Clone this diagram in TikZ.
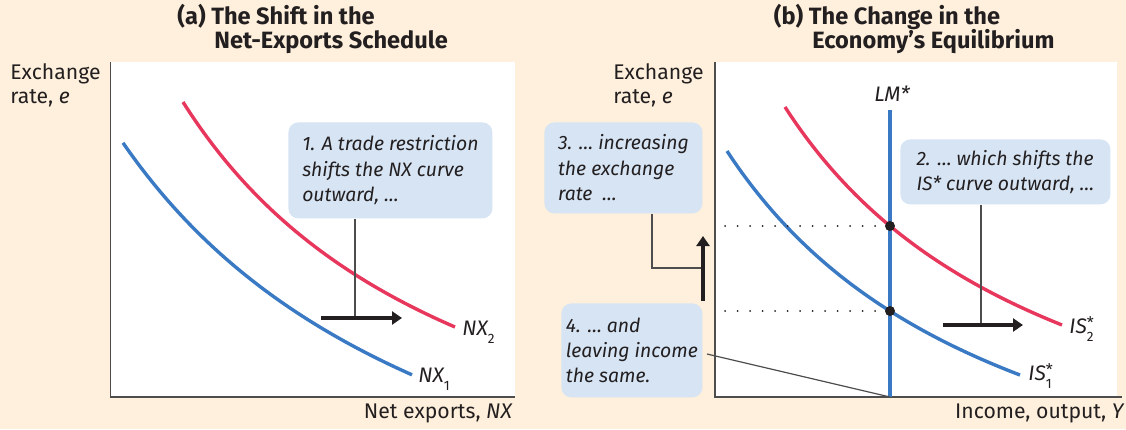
\documentclass[tikz,border=0pt]{standalone}
\usepackage{fontspec}
\setmainfont{Fira Sans}
\usetikzlibrary{arrows.meta}
\definecolor{bg}{HTML}{FEF0DC}
\definecolor{boxblue}{HTML}{D6E4F4}
\definecolor{cred}{HTML}{E8375C}
\definecolor{cblue}{HTML}{3A7AC4}
\definecolor{axisc}{HTML}{4D4D4D}
\definecolor{txt}{HTML}{231F20}
\newcommand{\boxfont}{\fontsize{9.7}{12.7}\selectfont\itshape}
\newcommand{\axfont}{\fontsize{10.6}{12}\selectfont}
\newcommand{\ttlfont}{\fontsize{11.8}{12}\selectfont\bfseries}
\newcommand{\crvfont}{\fontsize{10.5}{12}\selectfont\itshape}
\newcommand{\subfnt}{\fontsize{6.8}{8}\selectfont\upshape}
\newcommand{\starfnt}{\fontsize{8}{8}\selectfont\upshape}
\begin{document}
\begin{tikzpicture}[x=0.5pt,y=-0.5pt,
  axisline/.style={draw=axisc, line width=0.8pt},
  redcurve/.style={draw=cred, line width=1.7pt},
  bluecurve/.style={draw=cblue, line width=1.7pt},
  lmline/.style={draw=cblue, line width=2pt},
  infobox/.style={fill=boxblue, rounded corners=5pt, inner sep=0pt, align=left, font=\boxfont, text=txt, anchor=north west},
  leader/.style={draw=axisc, line width=0.6pt},
  bigarrow/.style={draw=txt, line width=2pt, -{Triangle[length=5pt,width=6.5pt]}},
  eqdot/.style={circle, fill=txt, inner sep=0pt, minimum size=5pt},
  dotline/.style={draw=txt, line width=1pt, line cap=round, dash pattern=on 0pt off 6.25pt},
  lbl/.style={font=\axfont, text=txt, inner sep=0pt, anchor=base west},
  ttl/.style={font=\ttlfont, text=txt, inner sep=0pt, anchor=base west},
  crv/.style={font=\crvfont, text=txt, inner sep=0pt, anchor=base west}
]
\fill[bg] (0,0) rectangle (1126,429);
\useasboundingbox (0,0) rectangle (1126,429);
% plot areas
\fill[white] (110,62) rectangle (515,397);
\fill[white] (715,62) rectangle (1117,397);

% ---------- Panel (a) ----------
\node[ttl] (ta1) at (177,24) {(a) The Shift in the};
\node[ttl] (ta2) at (214,48) {Net-Exports Schedule};
\node[lbl] (ya1) at (10,79) {Exchange};
\node[lbl] (ya2) at (10,103) {rate, \textit{e}};
\node[lbl, anchor=base east] (xa) at (513,418) {Net exports, \textit{NX}};
\draw[axisline] (110.5,62) -- (110.5,397) -- (515,397);

% NX1 and NX2 (hyperbolas, in units of 10 px)
\draw[bluecurve] plot[domain=123:412, samples=80] (\x, {397 - 10*(1867.4/(\x/10+23.6) - 26.6)});
\draw[redcurve] plot[domain=183:455, samples=80] (\x, {397 - 10*(1410.1/(\x/10+11.57) - 17.71)});
\node[crv] (nx1) at (418,382) {NX\raisebox{-4pt}{\subfnt 1}};
\node[crv] (nx2) at (462,335) {NX\raisebox{-4pt}{\subfnt 2}};

\node[infobox, minimum width=102pt, minimum height=48pt] (box1) at (288,122)
  {1. A trade restriction\\shifts the NX curve\\outward, …};
\coordinate (a1s) at (321,318);
\coordinate (a1m) at (355,318);
\coordinate (a1e) at (402,318);
\draw[leader] (box1.south -| a1m) -- (a1m);
\draw[bigarrow] (a1s) -- (a1e);

% ---------- Panel (b) ----------
\node[ttl] (tb1) at (773.5,24) {(b) The Change in the};
\node[ttl] (tb2) at (812,48) {Economy’s Equilibrium};
\node[lbl] (yb1) at (613,79) {Exchange};
\node[lbl] (yb2) at (613,103) {rate, \textit{e}};
\node[lbl, anchor=base east] (xb) at (1125,418) {Income, output, \textit{Y}};
\draw[axisline] (715,62) -- (715,397) -- (1122,397);

\coordinate (lmtop) at (890,110);
\coordinate (lmbot) at (890,397);
\node[crv, anchor=base] (lmlbl) at (892,101) {LM*};
\coordinate (d2s) at (725,226);
\coordinate (d1s) at (725,311);

\draw[bluecurve] plot[domain=727:1020, samples=80] (\x, {397 - 10*(1324.75/(\x/10-43.22) - 20.34)});
\draw[redcurve] plot[domain=785:1062, samples=80] (\x, {397 - 10*(1266.6/(\x/10-49.91) - 15.3)});
\draw[lmline] (lmtop) -- (lmbot);
\node[eqdot] (e2) at (890,226) {};
\node[eqdot] (e1) at (890,311) {};
\draw[dotline] (d2s) -- (e2.west);
\draw[dotline] (d1s) -- (e1.west);

\node[crv] (is1) at (1028,380) {IS\rlap{\raisebox{2.2pt}{\starfnt *}}\raisebox{-4.3pt}{\subfnt 1}};
\node[crv] (is2) at (1069,333) {IS\rlap{\raisebox{2.2pt}{\starfnt *}}\raisebox{-4.3pt}{\subfnt 2}};

\node[infobox, minimum width=105pt, minimum height=32.5pt] (box2) at (900,139)
  {2. … which shifts the\\IS* curve outward, …};
\coordinate (a2s) at (943,325);
\coordinate (a2m) at (981,325);
\coordinate (a2e) at (1023,325);
\draw[leader] (box2.south -| a2m) -- (a2m);
\draw[bigarrow] (a2s) -- (a2e);

\node[infobox, minimum width=79pt, minimum height=45.5pt] (box3) at (544,122)
  {3. … increasing\\the exchange\\rate \ …};
\coordinate (a3s) at (703,301);
\coordinate (a3m) at (703,268);
\coordinate (a3e) at (703,236);
\coordinate (l3) at (652,268);
\draw[leader] (box3.south -| l3) -- (l3) -- (a3m);
\draw[bigarrow] (a3s) -- (a3e);

\node[infobox, minimum width=70.5pt, minimum height=47pt] (box4) at (561,303)
  {4. … and\\leaving income\\the same.};
\coordinate (l4s) at (707,354);
\draw[leader] (l4s) -- (lmbot);
\end{tikzpicture}
\end{document}
